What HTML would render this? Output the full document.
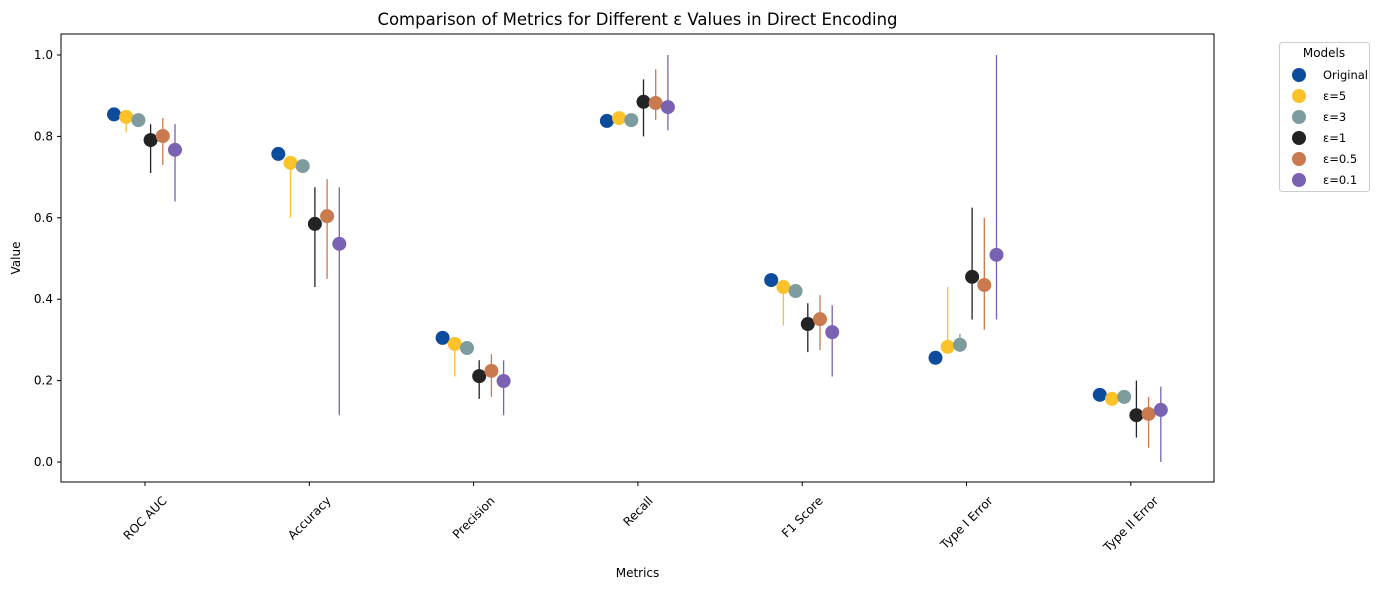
<!DOCTYPE html>
<html><head><meta charset="utf-8"><style>
body{margin:0;background:#fff;font-family:"Liberation Sans","DejaVu Sans",sans-serif;}
svg text{font-family:"DejaVu Sans","Liberation Sans",sans-serif;}
</style></head><body>
<svg id="chart" width="1393" height="590"></svg>
<script>
const categories=["ROC AUC","Accuracy","Precision","Recall","F1 Score","Type I Error","Type II Error"];
const seriesNames=["Original","ε=5","ε=3","ε=1","ε=0.5","ε=0.1"];
const seriesColors=["#0d4c9c","#fbc22a","#7e9c9e","#232323","#c97a4e","#7a62b2"];
const valOriginal=[0.854,0.757,0.305,0.838,0.447,0.256,0.165];
const valEps5=[0.848,0.735,0.290,0.845,0.430,0.283,0.155];
const valEps3=[0.840,0.727,0.280,0.840,0.420,0.288,0.160];
const valEps1=[0.791,0.585,0.211,0.885,0.339,0.455,0.115];
const valEps05=[0.801,0.604,0.224,0.882,0.351,0.435,0.118];
const valEps01=[0.767,0.536,0.199,0.872,0.319,0.509,0.128];
const lowOriginal=[0.854,0.757,0.305,0.838,0.447,0.256,0.165];
const highOriginal=[0.854,0.757,0.305,0.838,0.447,0.256,0.165];
const lowEps5=[0.81,0.60,0.21,0.83,0.335,0.27,0.14];
const highEps5=[0.86,0.74,0.30,0.86,0.44,0.43,0.17];
const lowEps3=[0.83,0.71,0.275,0.83,0.41,0.27,0.15];
const highEps3=[0.845,0.735,0.285,0.85,0.425,0.315,0.17];
const lowEps1=[0.71,0.43,0.155,0.80,0.27,0.35,0.06];
const highEps1=[0.83,0.675,0.25,0.94,0.39,0.625,0.20];
const lowEps05=[0.73,0.45,0.16,0.84,0.275,0.325,0.035];
const highEps05=[0.845,0.695,0.265,0.965,0.41,0.60,0.16];
const lowEps01=[0.64,0.115,0.115,0.815,0.21,0.35,0.0];
const highEps01=[0.83,0.675,0.25,1.0,0.385,1.0,0.185];
const yTicks=[0.0,0.2,0.4,0.6,0.8,1.0];
const vals=[valOriginal,valEps5,valEps3,valEps1,valEps05,valEps01];
const lows=[lowOriginal,lowEps5,lowEps3,lowEps1,lowEps05,lowEps01];
const highs=[highOriginal,highEps5,highEps3,highEps1,highEps05,highEps01];

const NS="http://www.w3.org/2000/svg";
const svg=document.getElementById("chart");
const L=61,R=1214,T=34,B=482;
const y=v=>462-v*407;
const x=i=>145+i*164.3;
const off=s=>-31+s*12.2;
function mk(tag,attrs,parent){const e=document.createElementNS(NS,tag);for(const k in attrs)e.setAttribute(k,attrs[k]);(parent||svg).appendChild(e);return e;}

let t=mk("text",{x:(L+R)/2,y:25,"text-anchor":"middle","font-size":16.5});
t.textContent="Comparison of Metrics for Different ε Values in Direct Encoding";



yTicks.forEach(v=>{
 const l=mk("line",{x1:L-4,x2:L,y1:y(v),y2:y(v),stroke:"#000"});
 
 
 const tx=mk("text",{x:L-8,y:y(v)+4,"text-anchor":"end","font-size":12});
 tx.textContent=v.toFixed(1);
 
 
});
categories.forEach((c,i)=>{
 const l=mk("line",{x1:x(i),x2:x(i),y1:B,y2:B+4,stroke:"#000"});
 
 
 const tx=mk("text",{x:0,y:0,"text-anchor":"middle","font-size":12});
 tx.textContent=c;
 
 
 const w=tx.getComputedTextLength();
 const h=w*0.7071+9;
 const cy=B+12+h/2;
 const ax=x(i)+3, ay=cy+3;
 tx.setAttribute("x",ax);tx.setAttribute("y",ay);
 tx.setAttribute("transform",`rotate(-45 ${ax} ${ay})`);
});
let yl=mk("text",{x:20,y:(T+B)/2,"text-anchor":"middle","font-size":12,transform:`rotate(-90 20 ${(T+B)/2})`});
yl.textContent="Value";


let xl=mk("text",{x:(L+R)/2,y:577,"text-anchor":"middle","font-size":12});
xl.textContent="Metrics";



vals.forEach((arr,s)=>{
 arr.forEach((v,i)=>{
  const cx=x(i)+off(s);
  if(highs[s][i]>lows[s][i]){
   const e=mk("line",{x1:cx,x2:cx,y1:y(lows[s][i]),y2:y(highs[s][i]),stroke:seriesColors[s],"stroke-width":1.3});
   
   
  }
  const p=mk("circle",{cx:cx,cy:y(v),r:7,fill:seriesColors[s]});
  
  
 });
});
const frame=mk("rect",{x:L,y:T,width:R-L,height:B-T,fill:"none",stroke:"#000","stroke-width":1});



const lg=mk("g",{});


mk("rect",{x:1279.5,y:42.5,width:90,height:149,rx:3,fill:"#fff",stroke:"#ccc"},lg);
const lt=mk("text",{x:1324,y:57,"text-anchor":"middle","font-size":12},lg);
lt.textContent="Models";
seriesNames.forEach((n,s)=>{
 const g=mk("g",{},lg);
 
 
 const yy=75+s*21;
 mk("circle",{cx:1299,cy:yy,r:7,fill:seriesColors[s]},g);
 const tx=mk("text",{x:1323,y:yy+4,"font-size":11.5},g);
 tx.textContent=n;
});
</script>
</body></html>
